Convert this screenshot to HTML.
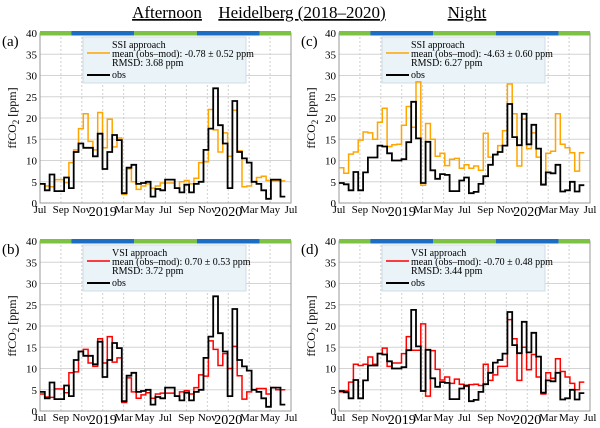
<!DOCTYPE html>
<html><head><meta charset="utf-8"><style>
body{margin:0;background:#fff;}
svg{display:block;font-family:"Liberation Serif",serif;}
</style></head><body>
<svg id="fig" width="600" height="428" viewBox="0 0 600 428" xmlns="http://www.w3.org/2000/svg">
<text x="167" y="18" font-size="17" text-anchor="middle" text-decoration="underline">Afternoon</text>
<text x="302" y="18" font-size="17" text-anchor="middle" text-decoration="underline">Heidelberg (2018–2020)</text>
<text x="467" y="18" font-size="17" text-anchor="middle" text-decoration="underline">Night</text>
</svg>
<script>
const obsAfternoon=[4.5,3,6.7,2.8,2.8,6,3.5,12,14,13,13,11,16.3,8,12,16,14.8,2.3,8.3,9,4.5,4.7,5,1.5,3.3,3,5.5,5.5,3.5,2.5,4.3,2.5,4.5,5,12.5,17.5,27,18.3,14,3.5,24,12,10.5,9.5,5,4.5,3,1,5.5,5.5,1.5];
const ssiAfternoon=[4.5,4,3.8,5.5,5.5,4.8,9.5,12.5,17.5,21,14.5,12.5,21.3,13,19.7,13.2,15.3,2,8,5,3.2,4,4.5,3.5,4,4.7,4.7,4.7,3.5,5,5.3,4.5,5.8,9.5,9.7,22,17.2,12,16.5,11,21.8,12.3,3.8,4,5,6,6.3,5.3,5.2,5.2,5.2];
const vsiAfternoon=[4,3.3,3.2,5.2,5.2,4.3,9,9.2,14,14.5,11.3,10.5,17,11.3,17.5,11.5,12.5,2,7.8,4.5,3,3.8,4.3,3,4,4.2,4.2,4.2,3.5,4.5,4.8,4,5.5,8.5,8.2,16.5,14.5,10.7,13.5,10,15.2,8.3,2.8,4.5,5,5.3,5.3,4,5.5,5,5];
const obsNight=[4.7,4.4,3,7.3,3,7.2,10.7,10.7,13.5,13.3,11.7,10,10,10.3,14.3,23.8,15.2,4.7,14.4,7.7,5.7,6.8,6.6,2.8,2.8,5.3,6,2.3,2.6,4.5,6.3,9,11.4,12,13.5,23.3,15.5,13.6,21,13.8,18.4,12.8,4.3,7.2,7,9,2.7,3,5,2.7,4.2];
const ssiNight=[8.3,7,11.5,12,14.8,16.7,16.5,15,19,22.3,13.3,13.7,13.8,18.3,22.7,17.8,28.5,4.2,18.7,15,11,11.7,8.8,10.3,10.5,8.2,9,8.2,8.7,7.7,16.4,10.8,11.5,13.5,17,28,21,8.7,19.7,12.8,16.5,10.8,4.5,11.7,12.2,21,13.8,13,11.8,7.5,11.8];
const vsiNight=[4.5,4.7,6.8,11,10.7,11,12.7,11,13.5,14.8,10.5,11.3,11.3,13.5,17.5,14.3,14.3,20.5,3.5,14.2,9.8,7.3,8,6.5,7.5,6.3,5.8,6.2,6.3,6,11,7.2,8.5,10.5,10.5,21.5,17,7.2,15,9.7,13.3,8,4,9,7.7,12.3,9.3,8,6.5,5,6.8];
const xTickLabels=["Jul","Sep","Nov","2019","Mar","May","Jul","Sep","Nov","2020","Mar","May","Jul"];
const yTicks=[0,5,10,15,20,25,30,35,40];
const seasonBands=[[0,3,"g"],[3,9,"b"],[9,15,"g"],[15,21,"b"],[21,24,"g"]];
const binDays=14;

const NS="http://www.w3.org/2000/svg";
const svg=document.getElementById('fig');
function mk(tag,attrs,parent){const e=document.createElementNS(NS,tag);for(const k in attrs)e.setAttribute(k,attrs[k]);(parent||svg).appendChild(e);return e;}

const panels=[
 {id:'a',x0:40,x1:291,yt:33,yb:203,model:ssiAfternoon,obs:obsAfternoon,color:'#ffa500',name:'SSI approach',stat:'mean (obs–mod): -0.78 ± 0.52 ppm',rmsd:'RMSD: 3.68 ppm'},
 {id:'c',x0:339,x1:590,yt:33,yb:203,model:ssiNight,obs:obsNight,color:'#ffa500',name:'SSI approach',stat:'mean (obs–mod): -4.63 ± 0.60 ppm',rmsd:'RMSD: 6.27 ppm'},
 {id:'b',x0:40,x1:291,yt:241,yb:411,model:vsiAfternoon,obs:obsAfternoon,color:'#ff0000',name:'VSI approach',stat:'mean (obs–mod): 0.70 ± 0.53 ppm',rmsd:'RMSD: 3.72 ppm'},
 {id:'d',x0:339,x1:590,yt:241,yb:411,model:vsiNight,obs:obsNight,color:'#ff0000',name:'VSI approach',stat:'mean (obs–mod): -0.70 ± 0.48 ppm',rmsd:'RMSD: 3.44 ppm'}
];

panels.forEach(p=>{
 const g=mk('g',{});
 
 
 const xs=m=>p.x0+(p.x1-p.x0)*m/24;
 const ys=v=>p.yb-(p.yb-p.yt)*v/40;
 yTicks.forEach(t=>{
  const l=mk('line',{x1:p.x0,x2:p.x1,y1:ys(t),y2:ys(t),stroke:'#d4d4d4','stroke-width':1},g);
  
  
  const tx=mk('text',{x:p.x0-3,y:ys(t)+4,'font-size':11,'text-anchor':'end'},g);
  
  
  tx.textContent=t;
 });
 xTickLabels.forEach((lab,i)=>{
  const x=xs(i*2);
  const l=mk('line',{x1:x,x2:x,y1:p.yt,y2:p.yb,stroke:'#cfcfcf','stroke-width':1,'stroke-dasharray':'2,2'},g);
  
  
  const big=/^\d/.test(lab);
  const tx=mk('text',{x:x,y:p.yb+(big?13:10),'font-size':big?14:11,'text-anchor':'middle'},g);
  
  
  tx.textContent=lab;
 });
 const fr=mk('rect',{x:p.x0,y:p.yt,width:p.x1-p.x0,height:p.yb-p.yt,fill:'none',stroke:'#999','stroke-width':1},g);
 
 
 seasonBands.forEach(b=>{
  const r=mk('rect',{x:xs(b[0]),y:p.yt-2,width:xs(b[1])-xs(b[0]),height:4.5,fill:b[2]=='g'?'#7dc242':'#1b6ec2'},g);
  
  
 });
 const lx=p.x0+43,ly=p.yt+4;
 const lb=mk('rect',{x:lx,y:ly,width:163,height:46,fill:'#e9f3f8',stroke:'#d0dde4','stroke-width':1},g);
 
 
 const ml=mk('line',{x1:lx+4,x2:lx+27,y1:ly+16,y2:ly+16,stroke:p.color,'stroke-width':1.6},g);
 
 
 const ol=mk('line',{x1:lx+4,x2:lx+27,y1:ly+38,y2:ly+38,stroke:'#000','stroke-width':2},g);
 
 
 [[p.name,ly+11],[p.stat,ly+20],[p.rmsd,ly+29],['obs',ly+41]].forEach((t,i)=>{
  const tx=mk('text',{x:lx+29,y:t[1],'font-size':10},g);
  
  
  tx.textContent=t[0];
 });
 function step(arr,color,w,name){
  let d='';const mpb=binDays/30.44;
  arr.forEach((v,i)=>{const xa=xs(i*mpb),xb=xs((i+1)*mpb),y=ys(v);d+=(i?'L':'M')+xa.toFixed(1)+','+y.toFixed(1)+'L'+xb.toFixed(1)+','+y.toFixed(1);});
  const pa=mk('path',{d:d,fill:'none',stroke:color,'stroke-width':w},g);
  
  
 }
 step(p.model,p.color,1.5,'model-line');
 step(p.obs,'#000',1.8,'obs-line');
 const pl=mk('text',{x:p.x0-38,y:p.yt+13,'font-size':15},g);
 
 
 pl.textContent='('+p.id+')';
 const yl=mk('text',{x:0,y:0,'font-size':12,'text-anchor':'middle',transform:`translate(${p.x0-24},${(p.yt+p.yb)/2}) rotate(-90)`},g);
 
 
 yl.innerHTML='ffCO<tspan font-size="9" dy="3">2</tspan><tspan dy="-3"> [ppm]</tspan>';
});
</script>
</body></html>
